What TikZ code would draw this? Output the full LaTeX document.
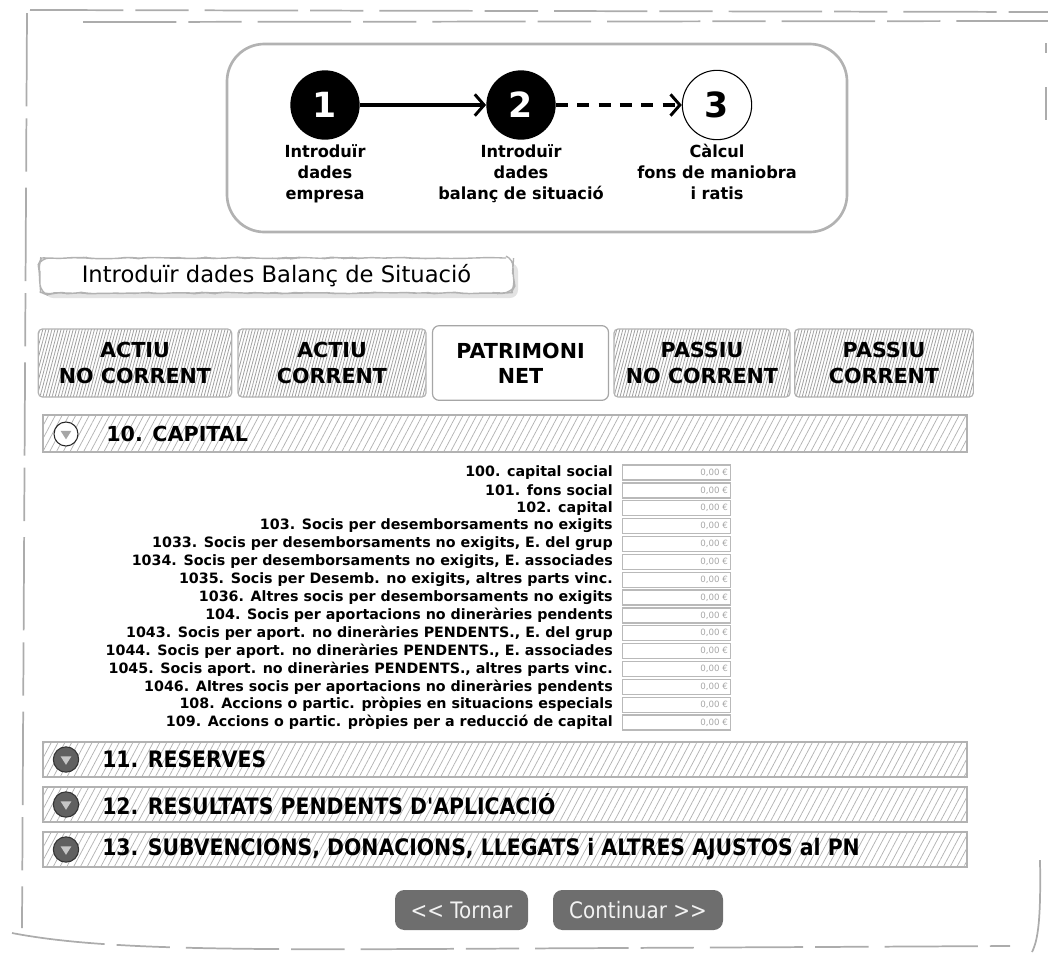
\documentclass[tikz,border=0pt]{standalone}
\usepackage{fontspec}
\setmainfont{DejaVu Sans}
\newfontfamily\narrowf[FakeStretch=0.9]{DejaVu Sans}
\newfontfamily\btnf[FakeStretch=0.88]{DejaVu Sans}
\newfontfamily\stepf[FakeStretch=0.97]{DejaVu Sans}
\usetikzlibrary{arrows.meta,patterns.meta,decorations.pathmorphing}
\definecolor{btngray}{HTML}{6E6E6E}
\definecolor{icongray}{HTML}{606060}
\tikzset{
  frame/.style={draw=gray!65, line width=1.3pt, dash pattern=on 70pt off 9pt on 40pt off 12pt},
  rough/.style={decorate, decoration={random steps, segment length=5pt, amplitude=0.5pt}},
  stepdone/.style={circle, fill=black, text=white, font=\bfseries\fontsize{26}{26}\selectfont, minimum size=52pt, inner sep=0pt},
  steptodo/.style={circle, draw=black, line width=0.8pt, fill=white, text=black, font=\bfseries\fontsize{26}{26}\selectfont, minimum size=52pt, inner sep=0pt},
  steplbl/.style={align=center, anchor=north, inner sep=0pt, font=\stepf\bfseries\fontsize{12.5}{15.7}\selectfont},
  flow/.style={line width=2.3pt, -{Straight Barb[length=7pt,width=16pt,line width=2.2pt]}},
  tabbox/.style={draw=gray!60, line width=0.9pt, rounded corners=3pt, minimum height=51pt, inner sep=1pt,
     pattern={Lines[angle=75,distance=2.2pt,line width=0.6pt]}, pattern color=gray!75,
     align=center, font=\bfseries\fontsize{15.5}{19}\selectfont},
  tabsel/.style={draw=gray!70, line width=0.9pt, rounded corners=5pt, fill=white, minimum height=56pt, inner sep=1pt,
     align=center, font=\bfseries\fontsize{15.5}{19}\selectfont},
  hdrbar/.style={draw=gray!60, line width=0.9pt, minimum width=693pt, minimum height=26.25pt, inner sep=0pt,
     pattern={Lines[angle=62,distance=4.5pt,line width=0.55pt]}, pattern color=gray!60},
  hdrtxt/.style={anchor=west, inner sep=0pt, font=\narrowf\bfseries\fontsize{17}{17}\selectfont},
  iconopen/.style={circle, draw=black!85, fill=white, line width=0.8pt, minimum size=18pt, inner sep=0pt},
  iconshut/.style={circle, draw=black!80, fill=icongray, line width=0.8pt, minimum size=19pt, inner sep=0pt},
  rowlbl/.style={anchor=east, inner sep=0pt, font=\bfseries\fontsize{10.7}{10.7}\selectfont},
  inbox/.style={anchor=west, draw=gray!55, line width=1pt, minimum width=81pt, minimum height=11.25pt, inner sep=0pt,
     text width=77pt, align=right, text=gray!70, font=\fontsize{6.5}{6.5}\selectfont},
  btn/.style={fill=btngray, rounded corners=7pt, minimum height=30pt, inner sep=0pt, text=white!90!gray,
     font=\btnf\fontsize{17}{17}\selectfont}
}
\begin{document}
\begin{tikzpicture}[x=0.75pt,y=-0.75pt]
\useasboundingbox (0,0) rectangle (1048,954);
% outer sketchy frame
\draw[frame] (30,10) -- (1048,12);
\draw[frame] (83,22) -- (1048,21);
\draw[frame] (27,13) -- (22,928);
\draw[frame] (12,933) .. controls (90,948) and (200,950) .. (420,949) -- (1010,946);
\draw[frame] (1040,860) .. controls (1041,920) and (1038,940) .. (1032,952);
\draw[draw=gray!65, line width=1.3pt] (1046,43) -- (1046,53);
\draw[draw=gray!65, line width=1.3pt] (1046,87) -- (1046,120);
% step box
\draw[gray!60, line width=2pt, rounded corners=28pt] (227,44) rectangle (847,232);
\node[stepdone] (s1) at (325,105) {1};
\node[stepdone] (s2) at (521,105) {2};
\node[steptodo] (s3) at (717,105) {3};
\draw[flow] (s1) -- (s2);
\draw[flow, dash pattern=on 9pt off 7pt] (s2) -- (s3);
\node[steplbl] (t1) at (325,144) {Introduïr\\dades\\empresa};
\node[steplbl] (t2) at (521,144) {Introduïr\\dades\\balanç de situació};
\node[steplbl] (t3) at (717,144) {Càlcul\\fons de maniobra\\i ratis};
% title box
\fill[gray!22, rounded corners=6pt] (45,263) rectangle (518,298);
\node[draw=gray!60, line width=1pt, rough, rounded corners=6pt, fill=white, minimum width=354.75pt, minimum height=26.25pt,
      font=\fontsize{17}{17}\selectfont] (title) at (276.5,275.5) {Introduïr dades Balanç de Situació};
% tabs
\node[tabbox, minimum width=145pt] (tab1) at (135,363) {ACTIU\\NO CORRENT};
\node[tabbox, minimum width=141pt] (tab2) at (332,363) {ACTIU\\CORRENT};
\node[tabsel, minimum width=132pt] (tab3) at (520.5,363) {PATRIMONI\\NET};
\node[tabbox, minimum width=132pt] (tab4) at (702,363) {PASSIU\\NO CORRENT};
\node[tabbox, minimum width=134pt] (tab5) at (884,363) {PASSIU\\CORRENT};
% section 10
\node[hdrbar, minimum height=27.75pt] (h10) at (505,433.5) {};
\node[iconopen] (i10) at (66,434) {};
\fill[gray!70] ([xshift=-4pt,yshift=2.3pt]i10.center) -- ([xshift=4pt,yshift=2.3pt]i10.center) -- ([yshift=-4pt]i10.center) -- cycle;
\node[anchor=west, inner sep=0pt, font=\bfseries\fontsize{15.5}{15.5}\selectfont] (h10t) at (106,434) {10. CAPITAL};
% capital rows
\foreach \t [count=\i] in {
  {100. capital social},
  {101. fons social},
  {102. capital},
  {103. Socis per desemborsaments no exigits},
  {1033. Socis per desemborsaments no exigits, E. del grup},
  {1034. Socis per desemborsaments no exigits, E. associades},
  {1035. Socis per Desemb. no exigits, altres parts vinc.},
  {1036. Altres socis per desemborsaments no exigits},
  {104. Socis per aportacions no dineràries pendents},
  {1043. Socis per aport. no dineràries PENDENTS., E. del grup},
  {1044. Socis per aport. no dineràries PENDENTS., E. associades},
  {1045. Socis aport. no dineràries PENDENTS., altres parts vinc.},
  {1046. Altres socis per aportacions no dineràries pendents},
  {108. Accions o partic. pròpies en situacions especials},
  {109. Accions o partic. pròpies per a reducció de capital}} {
  \pgfmathsetmacro{\yy}{472.5+17.86*(\i-1)}
  \node[rowlbl] (l\i) at (613,\yy) {\t};
  \node[inbox] (v\i) at (622,\yy) {0,00 €};
}
% sections 11-13
\node[hdrbar] (h11) at (505,759.5) {};
\node[iconshut] (i11) at (66,759.5) {};
\node[hdrtxt] (h11t) at (102,759.5) {11. RESERVES};
\node[hdrbar] (h12) at (505,804.5) {};
\node[iconshut] (i12) at (66,804.5) {};
\node[hdrtxt] (h12t) at (102,804.5) {12. RESULTATS PENDENTS D'APLICACIÓ};
\node[hdrbar] (h13) at (505,849.5) {};
\node[iconshut] (i13) at (66,849.5) {};
\node[hdrtxt] (h13t) at (102,849.5) {13. SUBVENCIONS, DONACIONS, LLEGATS i ALTRES AJUSTOS al PN};
\foreach \n in {i11,i12,i13} {
  \fill[gray!45] ([xshift=-4pt,yshift=2.3pt]\n.center) -- ([xshift=4pt,yshift=2.3pt]\n.center) -- ([yshift=-4pt]\n.center) -- cycle;
}
% buttons
\node[btn, minimum width=99.75pt] (back) at (461.5,910) {<< Tornar};
\node[btn, minimum width=127.5pt] (next) at (638,910) {Continuar >>};
\end{tikzpicture}
\end{document}
